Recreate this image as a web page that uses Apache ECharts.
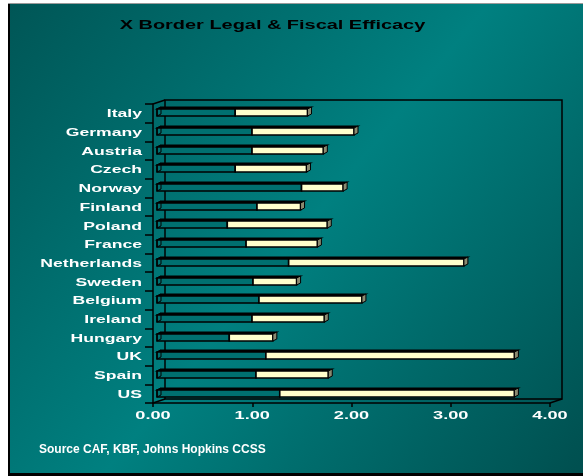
<!DOCTYPE html>
<html>
<head>
<meta charset="utf-8">
<script src="https://cdn.jsdelivr.net/npm/echarts@6/dist/echarts.min.js"></script>
<style>
html,body{margin:0;padding:0;background:#fff;}
#c{width:583px;height:476px;}
</style>
</head>
<body>
<div id="c"></div>
<script>
// Data (bottom to top as drawn)
const categories = ['US','Spain','UK','Hungary','Ireland','Belgium','Sweden','Netherlands','France','Poland','Finland','Norway','Czech','Austria','Germany','Italy'];
const darkValues  = [1.24, 1.00, 1.10, 0.73, 0.96, 1.03, 0.97, 1.33, 0.90, 0.71, 1.01, 1.46, 0.79, 0.96, 0.96, 0.79];
const totalValues = [3.61, 1.73, 3.61, 1.17, 1.69, 2.07, 1.41, 3.10, 1.62, 1.72, 1.45, 1.88, 1.51, 1.68, 1.99, 1.52];
const xTicks = [0, 1, 2, 3, 4];
const titleText = 'X Border Legal & Fiscal Efficacy';
const sourceText = 'Source CAF, KBF, Johns Hopkins CCSS';

const FONT = '"Liberation Sans", Arial, sans-serif';
const chart = echarts.init(document.getElementById('c'), null, {renderer: 'canvas'});

const barData = categories.map((c, i) => [darkValues[i], totalValues[i], i]);

function renderBar(params, api) {
  const dark = api.value(0), total = api.value(1), idx = api.value(2);
  const p0 = api.coord([0, idx]);
  const pd = api.coord([dark, idx]);
  const pt = api.coord([total, idx]);
  const c = Math.round(p0[1]);
  const x0 = p0[0], xd = pd[0], xt = pt[0];
  const top = c - 4, bot = c + 3;
  const dx = 4, dy = 2;
  return {
    type: 'group',
    children: [
      {type: 'polygon', shape: {points: [[x0, top], [x0 + dx, top - dy], [xt + dx, top - dy], [xt, top]]},
       style: {fill: '#000', stroke: '#000', lineWidth: 1.2}},
      {type: 'rect', shape: {x: x0, y: top, width: xd - x0, height: bot - top},
       style: {fill: '#007070', stroke: '#000', lineWidth: 1.6}},
      {type: 'rect', shape: {x: xd, y: top, width: xt - xd, height: bot - top},
       style: {fill: '#ffffcc', stroke: '#000', lineWidth: 1.6}},
      {type: 'polygon', shape: {points: [[xt, top], [xt + dx, top - dy], [xt + dx, bot - dy], [xt, bot]]},
       style: {fill: '#8a8a70', stroke: '#000', lineWidth: 1}},
      {type: 'polygon', shape: {points: [[x0, top], [x0 + dx, top - dy], [x0 + dx, bot - dy], [x0, bot]]},
       style: {fill: 'none', stroke: '#000', lineWidth: 1}}
    ]
  };
}

function renderYLabel(params, api) {
  const idx = api.value(0);
  const p = api.coord([0, idx]);
  const cs = params.coordSys;
  return {
    type: 'text', x: cs.x - 11, y: p[1] + 1, scaleX: 1.6,
    style: {text: categories[idx], fill: '#fff', font: 'bold 11px ' + FONT, align: 'right', verticalAlign: 'middle'}
  };
}

function renderXLabel(params, api) {
  const v = api.value(0);
  const p = api.coord([v, 0]);
  const cs = params.coordSys;
  return {
    type: 'text', x: p[0], y: cs.y + cs.height + 7, scaleX: 1.65,
    style: {text: v.toFixed(2), fill: '#fff', font: 'bold 11px ' + FONT, align: 'center', verticalAlign: 'top'}
  };
}

const bgFill = () => new echarts.graphic.LinearGradient(0, 0, 1, 1, [
  {offset: 0, color: '#005656'},
  {offset: 0.5, color: '#008080'},
  {offset: 1, color: '#004f4f'}
]);

const baseGraphic = [
  {type: 'rect', z: -10, shape: {x: 8, y: 3, width: 575, height: 473}, style: {fill: '#000'}},
  {type: 'rect', z: -10, shape: {x: 8, y: 3, width: 575, height: 1}, style: {fill: '#9a9a9a'}},
  {type: 'rect', z: -9, shape: {x: 10, y: 4, width: 573, height: 469}, style: {fill: bgFill()}},
  {type: 'text', x: 272.5, y: 26, scaleX: 1.66,
   style: {text: titleText, fill: '#000', font: 'bold 12px ' + FONT, align: 'center', verticalAlign: 'middle'}},
  {type: 'text', x: 39, y: 450, style: {text: sourceText, fill: '#fff', font: 'bold 12px ' + FONT, verticalAlign: 'middle'}}
];

const option = {
  animation: false,
  backgroundColor: 'transparent',
  graphic: baseGraphic,
  grid: [
    {left: 153, right: 33, top: 104, bottom: 73},
    {left: 165, right: 21, top: 100, bottom: 77, show: true, borderColor: '#000', borderWidth: 1.5, backgroundColor: 'transparent'},
    {left: 157, right: 30, top: 104, bottom: 73}
  ],
  xAxis: [
    {type: 'value', gridIndex: 0, min: 0, max: 4, interval: 1,
     axisLine: {show: true, lineStyle: {color: '#000', width: 1.5}},
     axisTick: {show: true, length: 4, lineStyle: {color: '#000', width: 1.5}},
     splitLine: {show: false},
     axisLabel: {show: false}},
    {type: 'value', gridIndex: 1, min: 0, max: 4, show: false},
    {type: 'value', gridIndex: 2, min: 0, max: 4, show: false}
  ],
  yAxis: [
    {type: 'category', gridIndex: 0, data: categories,
     axisLine: {show: true, lineStyle: {color: '#000', width: 1.5}},
     axisTick: {show: true, length: 8, lineStyle: {color: '#000', width: 1.5}},
     axisLabel: {show: false}},
    {type: 'category', gridIndex: 1, data: categories, show: false},
    {type: 'category', gridIndex: 2, data: categories, show: false}
  ],
  series: [
    {type: 'custom', xAxisIndex: 2, yAxisIndex: 2, renderItem: renderBar, data: barData, encode: {x: [0, 1], y: 2}, z: 5},
    {type: 'custom', xAxisIndex: 0, yAxisIndex: 0, renderItem: renderYLabel, data: categories.map((c, i) => [i]), encode: {y: 0}, z: 6, silent: true},
    {type: 'custom', xAxisIndex: 0, yAxisIndex: 0, renderItem: renderXLabel, data: xTicks.map(v => [v]), encode: {x: 0}, z: 6, silent: true}
  ]
};
chart.setOption(option);

// Depth connector lines derived from the two grids
const gf = chart.getModel().getComponent('grid', 0).coordinateSystem.getRect();
const gb = chart.getModel().getComponent('grid', 1).coordinateSystem.getRect();
chart.setOption({
  graphic: baseGraphic.concat([
    {type: 'line', z: 3, shape: {x1: gf.x, y1: gf.y, x2: gb.x, y2: gb.y}, style: {stroke: '#000', lineWidth: 1.5}},
    {type: 'line', z: 3, shape: {x1: gf.x + gf.width, y1: gf.y + gf.height, x2: gb.x + gb.width, y2: gb.y + gb.height}, style: {stroke: '#000', lineWidth: 1.5}},
    {type: 'line', z: 3, shape: {x1: gf.x, y1: gf.y + gf.height, x2: gb.x, y2: gb.y + gb.height}, style: {stroke: '#000', lineWidth: 1.5}}
  ])
}, {replaceMerge: ['graphic']});
</script>
</body>
</html>
